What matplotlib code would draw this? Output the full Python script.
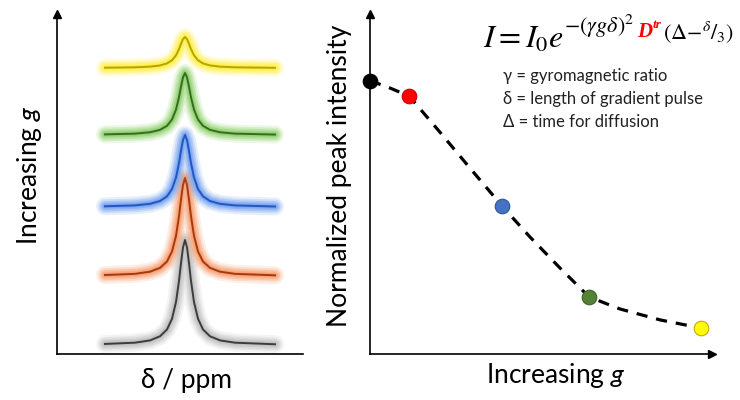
import matplotlib
matplotlib.use('Agg')
import matplotlib.pyplot as plt

plt.rcParams['font.family'] = ['Lato', 'DejaVu Sans']
plt.rcParams['mathtext.fontset'] = 'custom'
plt.rcParams['mathtext.rm'] = 'Lato'
plt.rcParams['mathtext.it'] = 'Lato:italic'
plt.rcParams['mathtext.bf'] = 'Lato:bold'

# ---- left panel: stacked spectra (bottom -> top = increasing g)
spec_base = [9, 78, 147, 219, 286]
spec_height = [105, 98, 72, 62, 31]
spec_line = ['#3c3c3c', '#a8380f', '#2256c2', '#3a6b22', '#b3a400']
spec_glow = ['#b8b8b8', '#f79560', '#6699ee', '#80cc5a', '#ffee30']
peak_pos = 128
# common peak line shape (offset, fraction of peak height)
shape_dx = [-80, -50, -35, -25, -18, -13, -9, -6, -4, -2, 0, 2, 4, 6, 9, 13, 18, 25, 35, 50, 90]
shape_rel = [0.01, 0.022, 0.044, 0.083, 0.148, 0.25, 0.41, 0.61, 0.78, 0.93, 1.0,
             0.93, 0.78, 0.61, 0.41, 0.25, 0.148, 0.083, 0.044, 0.022, 0.007]

# ---- right panel: normalized intensity vs g
g_pts = [0, 0.118, 0.399, 0.662, 1.0]
I_pts = [1.0, 0.945, 0.542, 0.209, 0.095]
pt_face = ['black', '#ff0000', '#4472c4', '#548235', '#ffff00']
pt_edge = ['black', '#d00000', '#2f5597', '#3d6128', '#c9a800']
curve_g = [0, 0.045, 0.118, 0.211, 0.302, 0.399, 0.483, 0.574, 0.662, 0.755, 0.876, 1.0]
curve_I = [1.0, 0.982, 0.945, 0.813, 0.681, 0.542, 0.429, 0.315, 0.209, 0.165, 0.125, 0.095]

legend_lines = ['γ = gyromagnetic ratio', 'δ = length of gradient pulse', 'Δ = time for diffusion']

W, H = 740, 400
fig = plt.figure(figsize=(7.4, 4.0), dpi=100)

ax1 = fig.add_axes([57/W, 46/H, 246/W, 340/H])
for b, h, lc, gc in zip(spec_base, spec_height, spec_line, spec_glow):
    xs = [peak_pos + d for d in shape_dx]
    ys = [b + h * r for r in shape_rel]
    for lw, a in [(13, 0.15), (10, 0.22), (7.5, 0.3), (5, 0.4), (3, 0.5)]:
        ax1.plot(xs, ys, color=gc, lw=lw, alpha=a, solid_capstyle='round', solid_joinstyle='round')
    ax1.plot(xs, ys, color=lc, lw=1.4)
ax1.set_xlim(0, 246)
ax1.set_ylim(0, 340)

ax2 = fig.add_axes([370/W, 46/H, 342/W, 340/H])
ax2.plot(curve_g, curve_I, color='black', lw=2.3, dashes=(3.5, 2.8), zorder=2)
for g, i, fc, ec in zip(g_pts, I_pts, pt_face, pt_edge):
    ax2.plot(g, i, 'o', ms=10.5, mfc=fc, mec=ec, mew=0.8, clip_on=False, zorder=3)
ax2.set_xlim(0, 342/331)
ax2.set_ylim(0, 340/273)

for ax in (ax1, ax2):
    ax.set_xticks([])
    ax.set_yticks([])
    for s in ['top', 'right']:
        ax.spines[s].set_visible(False)
    for s in ['left', 'bottom']:
        ax.spines[s].set_linewidth(1.2)
    ax.patch.set_alpha(0)
    ax.plot(0, 1, marker='^', color='black', ms=6, transform=ax.transAxes, clip_on=False)
ax2.plot(1, 0, marker='>', color='black', ms=6, transform=ax2.transAxes, clip_on=False)

lab = dict(fontsize=19)
fig.text(29/W, 1 - 175/H, 'Increasing $g$', rotation=90, ha='center', va='center', **lab)
fig.text(187/W, 1 - 388/H, 'δ / ppm', ha='center', va='baseline', **lab)
fig.text(340/W, 1 - 176/H, 'Normalized peak intensity', rotation=90, ha='center', va='center', **lab)
fig.text(556/W, 1 - 383/H, 'Increasing $g$', ha='center', va='baseline', **lab)

for k, s in enumerate(legend_lines):
    fig.text(503/W, 1 - (81 + 23*k)/H, s, fontsize=12, va='baseline', color='#222222')

# formula, built from pieces so that D^tr can be red
y0 = 1 - 48/H
A = fig.text(483/W, y0, r'$I = I_0e$', fontsize=23, math_fontfamily='stix', va='baseline')

def chain(prev, s, dy, gap=0.5, **kw):
    return ax2.annotate(s, xy=(1, y0), xycoords=(prev, 'figure fraction'),
                        xytext=(gap, dy), textcoords='offset points', va='baseline',
                        annotation_clip=False, **kw)

B = chain(A, r'$-(\gamma g\delta)^2$', 11, fontsize=16, math_fontfamily='stix')
C = chain(B, 'D', 8, gap=2, fontsize=15, family='Liberation Serif', weight='bold',
          style='italic', color='#ff0000')
D = chain(C, 'tr', 14.5, gap=0.3, fontsize=9.5, family='Liberation Serif', weight='bold',
          style='italic', color='#ff0000')
E = chain(D, r'$(\Delta{-}{}^{\delta}/_{3})$', 5.5, gap=1, fontsize=16, math_fontfamily='stix')

fig.savefig('out.png', dpi=100)
